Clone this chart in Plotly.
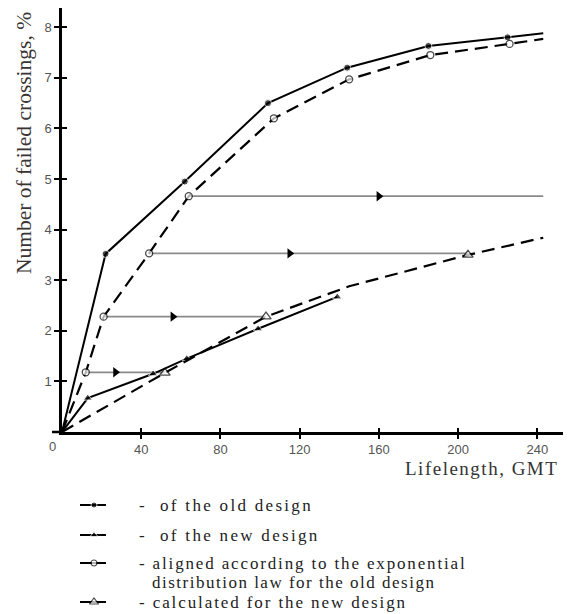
import plotly.graph_objects as go

# ---- data ----
old_x = [0, 22, 62, 104, 144, 185, 225, 243]
old_y = [0, 3.52, 4.95, 6.5, 7.2, 7.63, 7.8, 7.88]
old_msize = [0, 7, 7, 7, 7, 7, 7, 0]

aligned_x = [0, 12, 21, 44, 64, 107, 145, 186, 226, 243]
aligned_y = [0, 1.18, 2.28, 3.53, 4.66, 6.2, 6.97, 7.45, 7.67, 7.77]
aligned_msize = [0, 7, 7, 7, 7, 7, 7, 7, 7, 0]

new_x = [0, 13, 46, 63, 99, 139]
new_y = [0, 0.67, 1.15, 1.45, 2.04, 2.67]
new_msize = [0, 8, 8, 8, 8, 8]

calc_x = [0, 52, 103, 145, 205, 243]
calc_y = [0, 1.17, 2.28, 2.88, 3.5, 3.84]
calc_msize = [0, 9, 9, 0, 9, 0]

arrow_y = [1.18, 2.28, 3.53, 4.66]
arrow_x0 = [12, 21, 44, 64]
arrow_x1 = [52, 103, 205, 243]
arrow_head = [27, 56, 115, 160]

x_ticks = [40, 80, 120, 160, 200, 240]
y_ticks = [1, 2, 3, 4, 5, 6, 7, 8]

legend_labels = [
    "-\u00a0\u00a0of the old design",
    "-\u00a0\u00a0of the new design",
    "- aligned according to the exponential",
    "- calculated for the new design",
]
legend_second_line = "distribution law for the old design"

W, H = 571, 614
OFF = 8  # the page body adds an 8 px margin; positions below are reference pixels
SERIF = "Liberation Serif"


def px(x):
    return (x - OFF) / W


def py(y):
    return (H - (y - OFF)) / H


fig = go.Figure()

# arrows (gray horizontal transfer lines)
for yv, a, b in zip(arrow_y, arrow_x0, arrow_x1):
    fig.add_trace(go.Scatter(x=[a, b], y=[yv, yv], mode="lines",
                             line=dict(color="#8a8a8a", width=1.8),
                             showlegend=False, hoverinfo="skip"))
fig.add_trace(go.Scatter(x=arrow_head, y=arrow_y, mode="markers",
                         marker=dict(symbol="triangle-right", size=9, color="black"),
                         showlegend=False, hoverinfo="skip"))

# data curves
fig.add_trace(go.Scatter(x=old_x, y=old_y, mode="lines+markers",
                         line=dict(color="black", width=2),
                         marker=dict(symbol="circle", size=old_msize, color="black"),
                         showlegend=False))
fig.add_trace(go.Scatter(x=aligned_x, y=aligned_y, mode="lines+markers",
                         line=dict(color="black", width=2.2, dash="13px,7px"),
                         marker=dict(symbol="circle", size=aligned_msize, color="white",
                                     line=dict(color="black", width=1.3)),
                         showlegend=False))
fig.add_trace(go.Scatter(x=new_x, y=new_y, mode="lines+markers",
                         line=dict(color="black", width=2),
                         marker=dict(symbol="triangle-up", size=new_msize, color="black"),
                         showlegend=False))
fig.add_trace(go.Scatter(x=calc_x, y=calc_y, mode="lines+markers",
                         line=dict(color="black", width=2.2, dash="13px,7px"),
                         marker=dict(symbol="triangle-up", size=calc_msize, color="white",
                                     line=dict(color="black", width=1.3)),
                         showlegend=False))

# legend key symbols, drawn on a hidden pixel-unit axis pair under the chart
leg_rows = [505, 535, 563, 602]
leg_spacing = [2.3, 2.3, 1.85, 1.9]
leg_markers = [
    dict(symbol="circle", size=[0, 6, 0], color="black"),
    dict(symbol="triangle-up", size=[0, 7, 0], color="black"),
    dict(symbol="circle", size=[0, 6, 0], color="white", line=dict(color="black", width=1.2)),
    dict(symbol="triangle-up", size=[0, 8, 0], color="white", line=dict(color="black", width=1.2)),
]
for row, mk in zip(leg_rows, leg_markers):
    fig.add_trace(go.Scatter(x=[80 - OFF, 94 - OFF, 106 - OFF], y=[H - (row - OFF)] * 3,
                             mode="lines+markers", xaxis="x3", yaxis="y3",
                             line=dict(color="black", width=2), marker=mk,
                             showlegend=False, hoverinfo="skip"))

# helper trace for the inner (crossing) ticks
fig.add_trace(go.Scatter(x=[None], y=[None], xaxis="x2", yaxis="y2",
                         showlegend=False, hoverinfo="skip"))

tickfont = dict(family="Liberation Sans", size=13, color="#555")
xr = [0, 255]
yr = [0, 8.38]
xdom = [px(62), px(567)]
ydom = [py(432), py(8)]
leg_h = 178.0

fig.update_layout(
    width=W, height=H,
    margin=dict(l=0, r=0, t=0, b=0),
    paper_bgcolor="white", plot_bgcolor="white",
    showlegend=False,
    xaxis=dict(domain=xdom, range=xr, tickvals=x_ticks, ticktext=[str(v) for v in x_ticks],
               showgrid=False, zeroline=False, showline=True, linecolor="black",
               linewidth=2.5, ticks="outside", ticklen=4, tickwidth=2,
               tickcolor="black", tickfont=tickfont, anchor="y"),
    yaxis=dict(domain=ydom, range=yr, tickvals=y_ticks, ticktext=[str(v) for v in y_ticks],
               showgrid=False, zeroline=False, showline=True, linecolor="black",
               linewidth=2.5, ticks="outside", ticklen=5, tickwidth=2,
               tickcolor="black", tickfont=tickfont, anchor="x"),
    xaxis2=dict(range=xr, overlaying="x", tickvals=x_ticks, showticklabels=False,
                showgrid=False, zeroline=False, showline=False, ticks="inside",
                ticklen=4, tickwidth=2, tickcolor="black", side="bottom", anchor="y"),
    yaxis2=dict(range=yr, overlaying="y", tickvals=y_ticks, showticklabels=False,
                showgrid=False, zeroline=False, showline=False, ticks="inside",
                ticklen=5, tickwidth=2, tickcolor="black", side="left", anchor="x"),
    xaxis3=dict(domain=[0, 1], range=[0, W], visible=False, anchor="y3"),
    yaxis3=dict(domain=[0, leg_h / H], range=[0, leg_h], visible=False, anchor="x3"),
)

fig.add_annotation(text="Number of failed crossings, %",
                   textangle=-90, x=px(24), y=py(143), xref="paper", yref="paper",
                   xanchor="center", yanchor="middle",
                   showarrow=False, font=dict(family=SERIF, size=21.5, color="#3a3333"))
fig.add_annotation(text='<span style="letter-spacing:1.5px">Lifelength, GMT</span>',
                   x=px(403), y=py(468), xref="paper", yref="paper", xanchor="left",
                   yanchor="middle", showarrow=False,
                   font=dict(family=SERIF, size=19, color="#333"))
fig.add_annotation(text="0", x=px(53), y=py(446), xref="paper", yref="paper",
                   xanchor="center", yanchor="middle",
                   showarrow=False, font=tickfont)

leg_font = dict(family=SERIF, size=17, color="#222")
for row, lab, sp in zip(leg_rows, legend_labels, leg_spacing):
    fig.add_annotation(text=f'<span style="letter-spacing:{sp}px">{lab}</span>',
                       x=px(137), y=py(row), xref="paper", yref="paper",
                       xanchor="left", yanchor="middle", showarrow=False, font=leg_font)
fig.add_annotation(text=f'<span style="letter-spacing:1.5px">{legend_second_line}</span>',
                   x=px(150), y=py(582), xref="paper", yref="paper",
                   xanchor="left", yanchor="middle", showarrow=False, font=leg_font)

fig.add_shape(type="line", xref="paper", yref="paper", x0=px(52), x1=px(62),
              y0=py(432), y1=py(432), line=dict(color="black", width=2.5))

fig.write_html("out.html")
